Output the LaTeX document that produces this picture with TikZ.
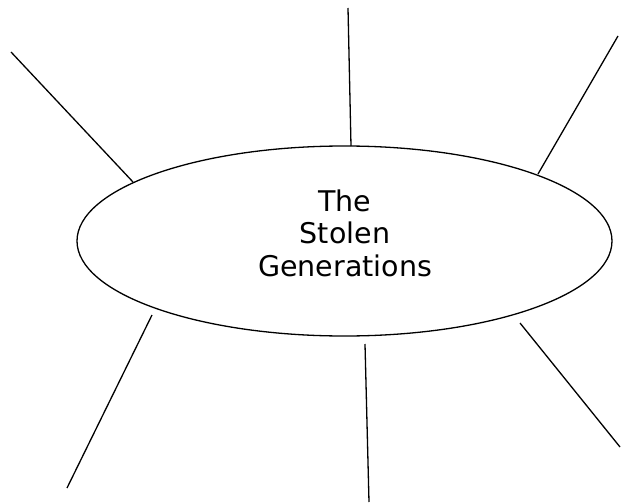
\documentclass[tikz,border=0pt]{standalone}
\usepackage{fontspec}
\setmainfont{DejaVu Sans}
\usetikzlibrary{shapes.geometric}
\begin{document}
\begin{tikzpicture}[x=1pt,y=-1pt,
  spoke/.style={line width=1.3pt},
  hub/.style={ellipse, draw, line width=1.3pt, minimum width=535pt, minimum height=190pt, inner sep=0pt},
  title/.style={align=center, inner sep=0pt, font=\fontsize{28.5}{32.5}\selectfont}]
\useasboundingbox (0,0) rectangle (621,503);
\node[hub] (e) at (344.5,241) {};
\node[title] (t) at (345,233) {The\\Stolen\\Generations};
\coordinate (a1) at (11,52);   \coordinate (b1) at (133,182);
\coordinate (a2) at (348,8);   \coordinate (b2) at (351,146);
\coordinate (a3) at (618,36);  \coordinate (b3) at (538,174);
\coordinate (a4) at (152,315); \coordinate (b4) at (67,488);
\coordinate (a5) at (365,344); \coordinate (b5) at (369,502);
\coordinate (a6) at (520,323); \coordinate (b6) at (620,447);
\foreach \i in {1,...,6} \draw[spoke] (a\i) -- (b\i);
\end{tikzpicture}
\end{document}
